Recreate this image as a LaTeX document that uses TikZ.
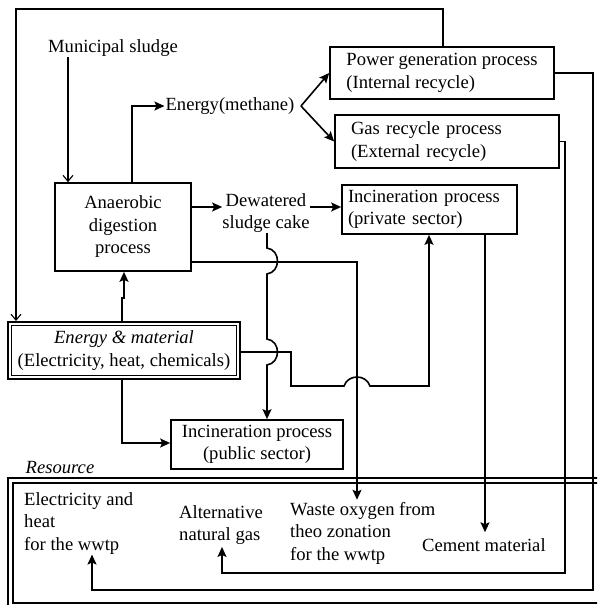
\documentclass[tikz,border=0pt]{standalone}
\usepackage{fontspec}
\setmainfont{Liberation Serif}
\usetikzlibrary{arrows.meta,calc}
\begin{document}
\begin{tikzpicture}[x=1pt,y=-1pt,
  every node/.style={font=\fontsize{18.6}{22.5}\selectfont, inner sep=0pt},
  box/.style={draw, line width=1.7pt, rectangle},
  thk/.style={line width=1.6pt},
  thn/.style={line width=1.1pt},
  arr/.style={thk, -{Stealth[length=10pt,width=9pt,inset=2pt]}},
  tarr/.style={thn, -{Straight Barb[length=6pt,width=10pt]}},
  frameout/.style={line width=2pt},
  framein/.style={line width=1.1pt}
]
\useasboundingbox (0,0) rectangle (597,605);
\clip (0,0) rectangle (597,605);

% ---------- nodes ----------
\node (muni) at (113,48) {Municipal sludge};
\node[box, minimum width=136pt, minimum height=88pt, align=center] (anaer) at (123,227) {Anaerobic\\digestion\\process};
\node[inner sep=1pt] (energy) at (230,106) {Energy(methane)};
\node[box, minimum width=224pt, minimum height=52pt, align=left] (power) at (442,73) {Power generation process\\(Internal recycle)};
\node[box, text width=192pt, inner xsep=16pt, minimum height=53pt, align=left] (gas) at (447,141.5) {Gas recycle process\\(External recycle)};
\node[align=center] (dew) at (266,213) {Dewatered\\sludge cake};
\node[box, text width=163pt, inner xsep=6pt, minimum height=49pt, align=left] (incpriv) at (429.5,209.5) {Incineration process\\(private sector)};
\node[box, minimum width=172pt, minimum height=49pt, align=center] (incpub) at (257,444.5) {Incineration process\\(public sector)};
\node[draw, frameout, minimum width=232pt, minimum height=57pt, align=center] (em) at (124,350.5) {\textit{Energy \& material}\\(Electricity, heat, chemicals)};
\draw[framein] ([shift={(4.5,4.5)}]em.north west) rectangle ([shift={(-4.5,-4.5)}]em.south east);

\node[font=\itshape\fontsize{18.6}{22.5}\selectfont] (res) at (60,468) {Resource};
\draw[frameout] (8,478) rectangle (640,640);
\draw[framein] (13,483) rectangle (635,603);

\node[anchor=west, align=left] (elec) at (24,523.4) {Electricity and\\heat\\for the wwtp};
\node[anchor=west, align=left] (alt) at (179,525) {Alternative\\natural gas};
\node[anchor=west, align=left] (waste) at (290,533) {Waste oxygen from\\theo zonation\\for the wwtp};
\node[anchor=west] (cement) at (422,545) {Cement material};

% ---------- coordinates ----------
\coordinate (m1) at (68,57);
\coordinate (e1) at (132,0);
\coordinate (sp) at (301,106);
\coordinate (t1) at (443,9);
\coordinate (t2) at (16,9);
\coordinate (p1) at (593,590);
\coordinate (p2) at (92,0);
\coordinate (g1) at (565,573);
\coordinate (g2) at (222,0);
\coordinate (w1) at (357,262);
\coordinate (d0) at (0,207);
\coordinate (v1) at (267,233);
\coordinate (v2) at (267,0);
\coordinate (h1) at (291,352);
\coordinate (h2) at (291,386);
\coordinate (h3) at (429,386);
\coordinate (c1) at (485,0);
\coordinate (j1) at (122,298);
\coordinate (j2) at (124,298);
\coordinate (k1) at (122,443);

% ---------- connectors ----------
\draw[tarr] (m1) -- (m1 |- anaer.north);
\draw[arr] (anaer.north -| e1) |- (energy.west);
\draw[arr] (sp) -- (power.west);
\draw[arr] (sp) -- (gas.west);
\draw[tarr] (power.north -| t1) -- (t1) -- (t2) -- (t2 |- em.north);
\draw[arr] (power.east) -| (p1) -| (p2 |- elec.south);
\draw[arr, shorten >=2pt] (gas.east) -| (g1) -| (g2 |- alt.south);
\draw[arr, shorten >=2pt] (anaer.east |- w1) -- (w1) -- (w1 |- waste.north);
\draw[arr] (anaer.east |- d0) -- (dew.west |- d0);
\draw[arr] (dew.east |- d0) -- (incpriv.west |- d0);
\draw[arr] (v1) -- (267,248) .. controls (281,250) and (281,272) .. (267,274)
   -- (267,339) .. controls (281,341) and (281,363) .. (267,365)
   -- (v2 |- incpub.north);
\draw[arr] (em.east |- h1) -- (h1) -- (h2) -- (344,386) .. controls (348,374) and (366,374) .. (370,386) -- (h3) -- (h3 |- incpriv.south);
\draw[arr, shorten >=6pt] (incpriv.south -| c1) -- (c1 |- cement.north);
\draw[arr] (em.north -| j1) -- (j1) -- (j2) -- (j2 |- anaer.south);
\draw[arr] (em.south -| k1) -- (k1) -- (k1 -| incpub.west);
\end{tikzpicture}
\end{document}
